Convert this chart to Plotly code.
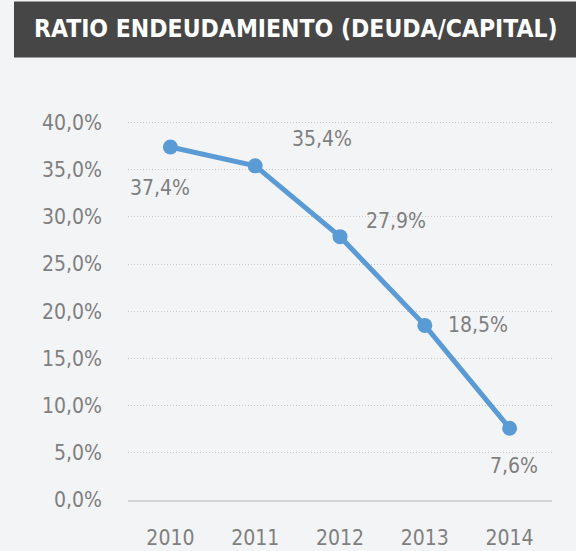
import plotly.graph_objects as go

years = ["2010", "2011", "2012", "2013", "2014"]
ratio = [37.4, 35.4, 27.9, 18.5, 7.6]
labels = ["37,4%", "35,4%", "27,9%", "18,5%", "7,6%"]
ytick_vals = [0, 5, 10, 15, 20, 25, 30, 35, 40]
ytick_text = ["0,0%", "5,0%", "10,0%", "15,0%", "20,0%", "25,0%", "30,0%", "35,0%", "40,0%"]
title = "RATIO ENDEUDAMIENTO (DEUDA/CAPITAL)"

label_shift = [(-10, -41), (67, 27), (56, 16), (53, 0), (4, -38)]

FONT = "DejaVu Sans Condensed"
GRAY = "#7f7f7f"
BLUE = "#5b9bd5"
BG = "#f3f4f6"

fig = go.Figure()
fig.add_trace(go.Scatter(
    x=years, y=ratio, mode="lines+markers",
    line=dict(color=BLUE, width=5),
    marker=dict(color=BLUE, size=15),
    hoverinfo="skip", showlegend=False,
))

for i, (v, lab, (dx, dy)) in enumerate(zip(ratio, labels, label_shift)):
    fig.add_annotation(x=i, y=v, text=lab, showarrow=False,
                       xshift=dx, yshift=dy,
                       font=dict(family=FONT, size=21, color=GRAY))

fig.add_shape(type="rect", xref="paper", yref="paper",
              x0=-0.2689, x1=1.06, y0=1.1434, y1=1.2879,
              fillcolor="#464646", line=dict(width=0), layer="above")
fig.add_annotation(xref="paper", yref="paper", x=0.397, y=1.2195,
                   text="<b>" + title + "</b>", showarrow=False,
                   xanchor="center", yanchor="middle",
                   font=dict(family=FONT, size=24.5, color="#ffffff"))

fig.update_layout(
    width=576, height=551,
    margin=dict(l=128, r=24, t=112.55, b=51, autoexpand=False),
    paper_bgcolor=BG, plot_bgcolor=BG,
    xaxis=dict(
        type="category", range=[-0.5, 4.5], automargin=False,
        showgrid=False, zeroline=False,
        showline=True, linecolor="#d4d4d4", linewidth=2,
        ticks="", ticklabelstandoff=18,
        tickfont=dict(family=FONT, size=21, color=GRAY),
    ),
    yaxis=dict(
        range=[0, 41], tickvals=ytick_vals, ticktext=ytick_text,
        automargin=False,
        showgrid=True, gridcolor="#cccccc", griddash="1px,2px", gridwidth=1,
        zeroline=False, showline=False, ticks="",
        ticklabelstandoff=25,
        tickfont=dict(family=FONT, size=21, color=GRAY),
    ),
)

fig.write_html("out.html", config={"displayModeBar": False},
               post_script="document.body.style.margin='0';document.body.style.background='%s';" % BG)
